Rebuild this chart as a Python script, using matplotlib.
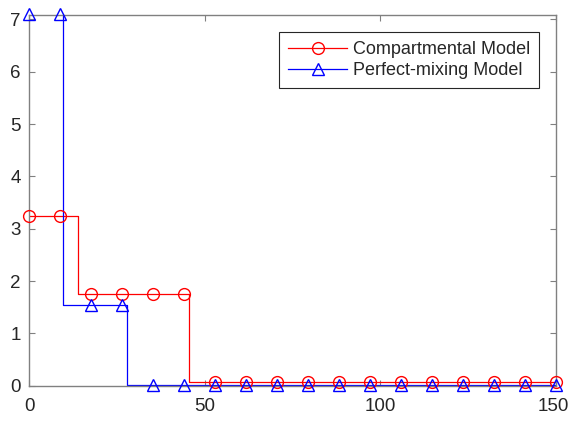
import numpy as np
import matplotlib
matplotlib.use("Agg")
import matplotlib.pyplot as plt
import matplotlib.transforms as mtransforms

plt.rcParams['font.family'] = ['Liberation Sans', 'DejaVu Sans']

# sample points where markers are drawn
t_marks = np.linspace(0, 150, 18)
comp_marks = [3.25, 3.25, 1.75, 1.75, 1.75, 1.75] + [0.08] * 12
mix_marks = [7.1, 7.1, 1.55, 1.55] + [0.01] * 14

# staircase breakpoints
comp_step_x = [0, 13.9, 45.6, 150]
comp_step_y = [3.25, 1.75, 0.08, 0.08]
mix_step_x = [0, 9.8, 28.0, 150]
mix_step_y = [7.1, 1.55, 0.01, 0.01]

fig = plt.figure(figsize=(5.69, 4.34), dpi=100)
ax = fig.add_axes([0.051, 0.111, 0.926, 0.854])

ax.step(comp_step_x, comp_step_y, where='post', color='#ff0000', lw=0.9)
ax.step(mix_step_x, mix_step_y, where='post', color='#0000ff', lw=0.9)
ax.plot(t_marks, comp_marks, ls='none', marker='o', ms=8.5, mfc='none',
        mec='#ff0000', mew=1.0, clip_on=False, zorder=3)
ax.plot(t_marks, mix_marks, ls='none', marker='^', ms=8.5, mfc='none',
        mec='#0000ff', mew=1.0, clip_on=False, zorder=3)

# legend proxies
ax.plot([], [], color='#ff0000', lw=0.9, marker='o', ms=8.5, mfc='none',
        mew=1.0, label='Compartmental Model')
ax.plot([], [], color='#0000ff', lw=0.9, marker='^', ms=8.5, mfc='none',
        mew=1.0, label='Perfect-mixing Model')

ax.set_xlim(0, 150)
ax.set_ylim(0, 7.08)
ax.set_xticks([0, 50, 100, 150])
ax.set_yticks(range(0, 8))

for s in ax.spines.values():
    s.set_color('#808080')
    s.set_linewidth(1.0)
ax.tick_params(direction='in', length=4, width=0.8, color='#808080',
               labelcolor='#262626', labelsize=13.5, top=True, right=True)
ax.tick_params(axis='x', pad=9)
ax.tick_params(axis='y', pad=6)

# keep the last x label inside the figure
fig.canvas.draw()
last = ax.get_xticklabels()[-1]
last.set_transform(last.get_transform() +
                   mtransforms.ScaledTranslation(-3 / 100, 0, fig.dpi_scale_trans))

leg = ax.legend(loc='upper right', bbox_to_anchor=(0.968, 0.954), numpoints=1,
                handlelength=3.3, fontsize=13, fancybox=False, framealpha=1,
                edgecolor='#262626', borderpad=0.5, labelspacing=0.22,
                handletextpad=0.3, borderaxespad=0)
leg.get_frame().set_linewidth(0.8)
for txt in leg.get_texts():
    txt.set_color('#262626')

fig.savefig('out.png', dpi=100)
